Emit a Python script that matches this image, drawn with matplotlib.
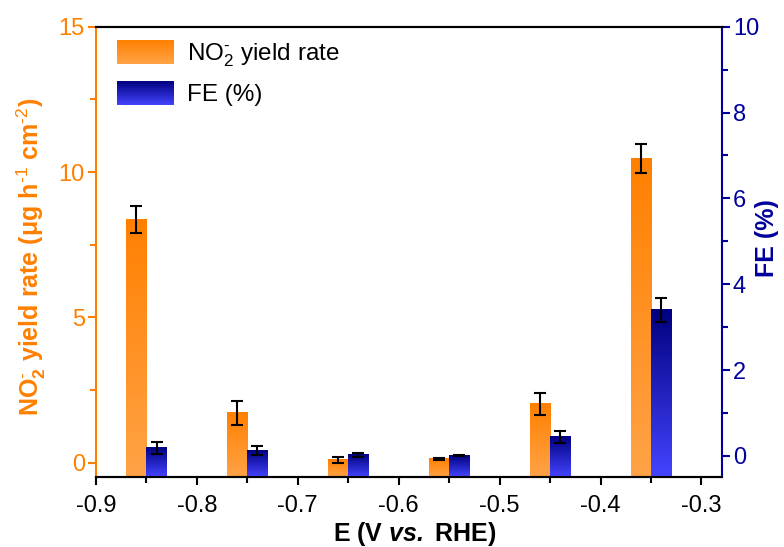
import numpy as np
import matplotlib
matplotlib.use('Agg')
from matplotlib import pyplot as plt
from matplotlib.patches import Patch, Rectangle
from matplotlib.legend_handler import HandlerBase
from matplotlib.colors import LinearSegmentedColormap, to_rgb

# data
potential = [-0.85, -0.75, -0.65, -0.55, -0.45, -0.35]
yield_rate = [8.37, 1.71, 0.09, 0.13, 2.02, 10.46]
yield_err = [0.45, 0.41, 0.10, 0.02, 0.38, 0.49]
fe = [0.18, 0.12, 0.02, 0.01, 0.44, 3.40]
fe_err = [0.14, 0.11, 0.05, 0.02, 0.14, 0.27]

orange = '#FF8000'
navy = '#00009C'
plt.rcParams['font.family'] = ['Liberation Sans', 'DejaVu Sans']
plt.rcParams['axes.unicode_minus'] = False
plt.rcParams['mathtext.fontset'] = 'custom'
plt.rcParams['mathtext.rm'] = 'Liberation Sans'
plt.rcParams['mathtext.it'] = 'Liberation Sans:italic'
plt.rcParams['mathtext.bf'] = 'Liberation Sans:bold'
plt.rcParams['mathtext.bfit'] = 'Liberation Sans:italic:bold'


class GradHandler(HandlerBase):
    def __init__(self, top, bottom):
        super().__init__()
        self.top = np.array(to_rgb(top))
        self.bottom = np.array(to_rgb(bottom))

    def create_artists(self, legend, orig_handle, xdescent, ydescent,
                       width, height, fontsize, trans):
        n = 30
        out = []
        for i in range(n):
            f = (i + 0.5) / n
            c = self.bottom * (1 - f) + self.top * f
            out.append(Rectangle((-xdescent, -ydescent + height * i / n), width,
                                 height / n * 1.1, facecolor=c, edgecolor='none',
                                 transform=trans))
        return out


def grad_bars(ax, bars, top, bottom):
    g = np.linspace(0, 1, 256).reshape(-1, 1)
    cm = LinearSegmentedColormap.from_list('g', [bottom, top])
    for b in bars:
        x0, y0 = b.get_x(), b.get_y()
        ax.imshow(g, cmap=cm, origin='lower', aspect='auto', zorder=2,
                  extent=[x0, x0 + b.get_width(), y0, y0 + b.get_height()])


fig = plt.figure(figsize=(7.84, 5.47), dpi=100)
ax = fig.add_axes([0.1224, 0.1274, 0.7981, 0.8238])
ax2 = ax.twinx()

w = 0.02
ylo = -0.5
x = np.array(potential)
b1 = ax.bar(x - w / 2, np.array(yield_rate) - ylo, w, bottom=ylo, color='none')
b2 = ax2.bar(x + w / 2, np.array(fe) - ylo, w, bottom=ylo, color='none')
grad_bars(ax, b1, '#FF8000', '#FFA347')
grad_bars(ax2, b2, '#000080', '#4444FF')
ax.errorbar(x - w / 2, yield_rate, yerr=yield_err, fmt='none', ecolor='k',
            elinewidth=1.5, capsize=4, capthick=1.5, zorder=3)
ax2.errorbar(x + w / 2, fe, yerr=fe_err, fmt='none', ecolor='k',
             elinewidth=1.5, capsize=4, capthick=1.5, zorder=3)

ax.set_xlim(-0.9, -0.28)
ax.set_ylim(ylo, 15)
ax2.set_ylim(ylo, 10)
ax.set_xticks([-0.9, -0.8, -0.7, -0.6, -0.5, -0.4, -0.3])
ax.set_xticks(np.arange(-0.85, -0.28, 0.1), minor=True)
ax.set_yticks([0, 5, 10, 15])
ax.set_yticks([2.5, 7.5, 12.5], minor=True)
ax2.set_yticks([0, 2, 4, 6, 8, 10])
ax2.set_yticks([1, 3, 5, 7, 9], minor=True)

for s in ax.spines.values():
    s.set_linewidth(1.5)
for s in ax2.spines.values():
    s.set_linewidth(1.5)
ax.spines['left'].set_color(orange)
ax.spines['right'].set_visible(False)
ax2.spines['left'].set_visible(False)
ax2.spines['right'].set_color(navy)

ax.tick_params(axis='x', which='major', length=6, width=1.5, labelsize=17, pad=7)
ax.tick_params(axis='x', which='minor', length=4, width=1.5)
ax.tick_params(axis='y', which='major', length=6, width=1.5, labelsize=17,
               colors=orange, pad=2)
ax.tick_params(axis='y', which='minor', length=4, width=1.5, colors=orange)
ax2.tick_params(axis='y', which='major', length=6, width=1.5, labelsize=17,
                colors=navy, pad=2)
ax2.tick_params(axis='y', which='minor', length=4, width=1.5, colors=navy)

ax.set_xlabel(r'E (V $\mathbfit{vs.}$ RHE)', fontsize=18, fontweight='bold')
ax.xaxis.set_label_coords(0.51, -0.095)
ax.set_ylabel(r'NO$_\mathbf{2}^\text{-}$ yield rate (μg h$^\text{-1}$ cm$^\text{-2}$)',
              fontsize=18, fontweight='bold', color=orange)
ax.yaxis.set_label_coords(-0.076, 0.49)
ax2.set_ylabel('FE (%)', fontsize=18, fontweight='bold', color=navy)
ax2.yaxis.set_label_coords(1.053, 0.53)

h1 = Patch(label=r'NO$_2^\text{-}$ yield rate')
h2 = Patch(label='FE (%)')
ax2.legend(handles=[h1, h2], loc='upper left', bbox_to_anchor=(0.034, 0.97),
           frameon=False, fontsize=17.5, borderpad=0, borderaxespad=0,
           handlelength=2.35, handleheight=1.15, handletextpad=0.52,
           labelspacing=0.5,
           handler_map={h1: GradHandler('#FF8000', '#FFA347'),
                        h2: GradHandler('#000080', '#4444FF')})

fig.savefig('out.png', dpi=100)
